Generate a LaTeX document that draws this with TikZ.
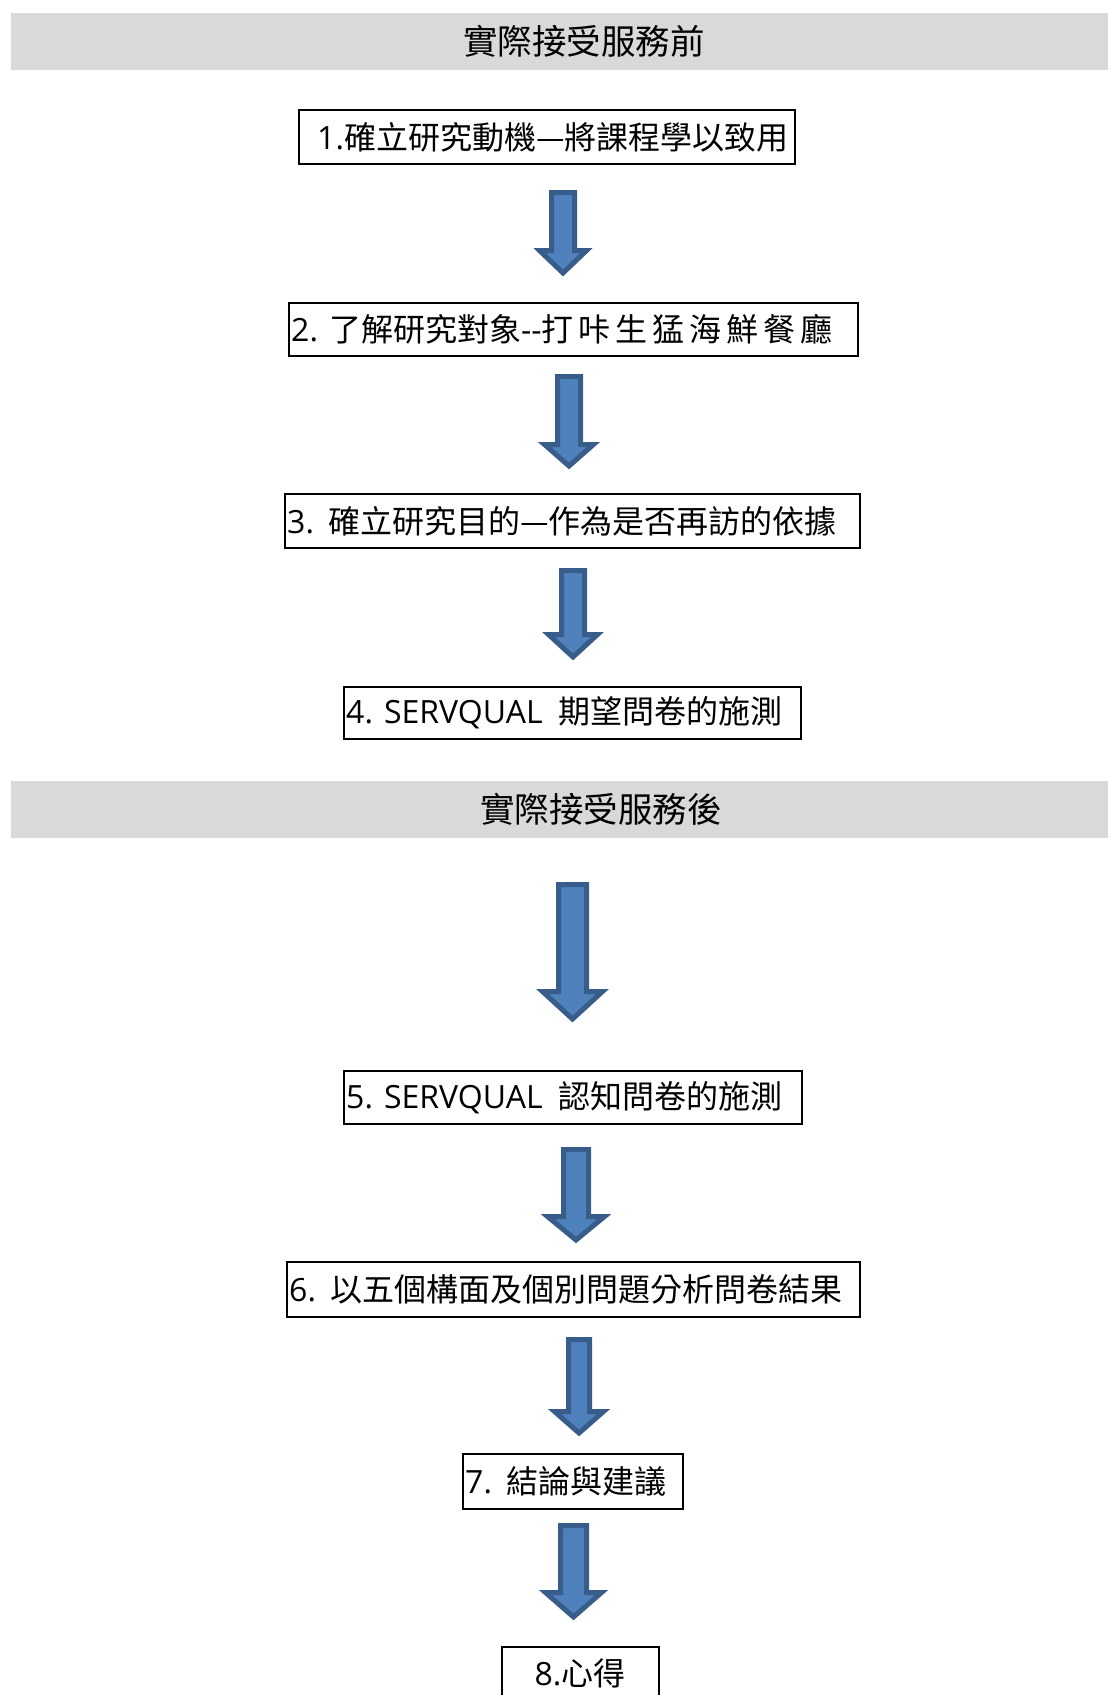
\documentclass[tikz,border=0pt]{standalone}
\usepackage{fontspec}
\setmainfont{Open Sans}
\newfontfamily\cjkf{Noto Sans CJK TC}
\definecolor{bandgray}{HTML}{D9D9D9}
\definecolor{arrowfill}{HTML}{4F81BD}
\definecolor{arrowline}{HTML}{385D8A}
\newcommand\zh[1]{{\cjkf #1}}
\newcommand\lsp{\hspace{5pt}}
% #1 centre x, #2 shaft half width, #3 head half width, #4 top, #5 head start, #6 tip
\newcommand\blockarrow[6]{%
  \draw[blockarr] ({#1-#2+2.5},{#4+2.5}) -- ({#1+#2-2.5},{#4+2.5}) -- ({#1+#2-2.5},{#5+2.5})
    -- ({#1+#3-3.5},{#5+2.5}) -- (#1,{#6-4}) -- ({#1-#3+3.5},{#5+2.5})
    -- ({#1-#2+2.5},{#5+2.5}) -- cycle;}
\tikzset{
  bandbox/.style={fill=bandgray, draw=none, inner sep=0, minimum width=1097pt, minimum height=57pt},
  flowbox/.style={draw=black, line width=2.2pt, fill=white, inner sep=0},
  blockarr/.style={fill=arrowfill, draw=arrowline, line width=5pt, line join=miter},
  boxtext/.style={font=\fontsize{32}{38}\selectfont, inner sep=0},
  bandtext/.style={font=\fontsize{34.5}{41}\selectfont\cjkf, inner sep=0},
}
\begin{document}
\begin{tikzpicture}[x=1pt,y=-1pt]
\useasboundingbox (0,0) rectangle (1108,1695);
% bands
\node[bandbox] (band1) at (559.5,41.5) {};
\node[bandtext] (band1t) at (584,41) {實際接受服務前};
\node[bandbox] (band2) at (559.5,809.5) {};
\node[bandtext] (band2t) at (601,809) {實際接受服務後};
% boxes
\node[flowbox, minimum width=496pt, minimum height=54pt] (b1) at (547,137) {};
\node[flowbox, minimum width=569pt, minimum height=53pt] (b2) at (573.5,329.5) {};
\node[flowbox, minimum width=575pt, minimum height=54pt] (b3) at (572.5,521) {};
\node[flowbox, minimum width=457pt, minimum height=52pt] (b4) at (572.5,713) {};
\node[flowbox, minimum width=458pt, minimum height=53pt] (b5) at (573,1097.5) {};
\node[flowbox, minimum width=573pt, minimum height=55pt] (b6) at (573.5,1289.5) {};
\node[flowbox, minimum width=220pt, minimum height=55pt] (b7) at (573,1481.5) {};
\node[flowbox, minimum width=157pt, minimum height=54pt] (b8) at (580.5,1674) {};
% texts
\node[boxtext, anchor=west] (t1) at (317,137) {1.\zh{確立研究動機—將課程學以致用}};
\node[boxtext, anchor=west] (t2) at (291,329.5) {2. \zh{了解研究對象}-{}-\zh{打\lsp 咔\lsp 生\lsp 猛\lsp 海\lsp 鮮\lsp 餐\lsp 廳}};
\node[boxtext, anchor=west] (t3) at (287,521) {3.\hspace{14pt}\zh{確立研究目的—作為是否再訪的依據}};
\node[boxtext, anchor=west] (t4) at (346,713) {4. SERVQUAL\hspace{16pt}\zh{期望問卷的施測}};
\node[boxtext, anchor=west] (t5) at (346,1097.5) {5. SERVQUAL\hspace{16pt}\zh{認知問卷的施測}};
\node[boxtext, anchor=west] (t6) at (289,1289.5) {6.\hspace{14pt}\zh{以五個構面及個別問題分析問卷結果}};
\node[boxtext, anchor=west] (t7) at (465,1481.5) {7.\hspace{14pt}\zh{結論與建議}};
\node[boxtext] (t8) at (580,1673) {8.\zh{心得}};
% block arrows
\blockarrow{563}{14}{27}{190}{248}{277}
\blockarrow{569}{14}{28}{374}{442}{470}
\blockarrow{573}{14}{28}{568}{632}{661}
\blockarrow{572.5}{16.5}{33.5}{882}{989}{1023}
\blockarrow{576}{15}{32}{1147}{1214}{1244}
\blockarrow{579}{13}{28}{1337}{1409}{1437}
\blockarrow{573.5}{15.5}{31.5}{1523}{1590}{1621}
\end{tikzpicture}
\end{document}
